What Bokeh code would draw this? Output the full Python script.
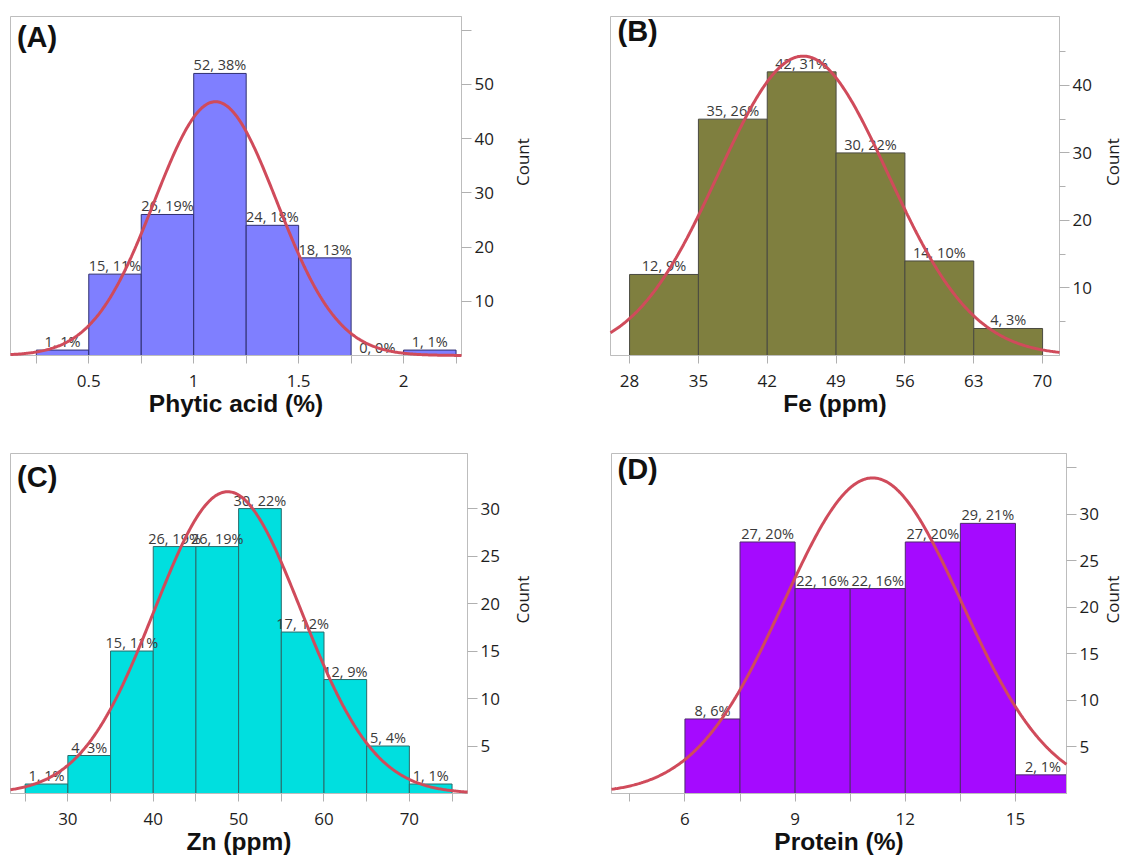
import math
import numpy as np
from bokeh.plotting import figure
from bokeh.models import Range1d, FixedTicker, ColumnDataSource, LabelSet, Label, LinearAxis
from bokeh.layouts import column, row
from bokeh.core.properties import value
from bokeh.embed import file_html
from bokeh.resources import INLINE

# ---------------- data ----------------
# (A) Phytic acid (%)
A_edges = [0.25, 0.5, 0.75, 1.0, 1.25, 1.5, 1.75, 2.0, 2.25]
A_counts = [1, 15, 26, 52, 24, 18, 0, 1]
A_pct = [1, 11, 19, 38, 18, 13, 0, 1]
A_mean, A_sd = 1.104, 0.292
A_xticks = [0.25, 0.5, 0.75, 1.0, 1.25, 1.5, 1.75, 2.0, 2.25]
A_xlabels = ["", "0.5", "", "1", "", "1.5", "", "2", ""]
A_yticks = [10, 20, 30, 40, 50, 60]
A_ylabels = ["10", "20", "30", "40", "50", ""]

# (B) Fe (ppm)
B_edges = [28, 35, 42, 49, 56, 63, 70]
B_counts = [12, 35, 42, 30, 14, 4]
B_pct = [9, 26, 31, 22, 10, 3]
B_mean, B_sd = 45.65, 8.63
B_xticks = [28, 35, 42, 49, 56, 63, 70]
B_xlabels = ["28", "35", "42", "49", "56", "63", "70"]
B_yticks = [10, 20, 30, 40]
B_ylabels = ["10", "20", "30", "40"]
B_yminor = [5, 15, 25, 35, 45]

# (C) Zn (ppm)
C_edges = [25, 30, 35, 40, 45, 50, 55, 60, 65, 70, 75]
C_counts = [1, 4, 15, 26, 26, 30, 17, 12, 5, 1]
C_pct = [1, 3, 11, 19, 19, 22, 12, 9, 4, 1]
C_mean, C_sd = 48.72, 8.6
C_xticks = [25, 30, 35, 40, 45, 50, 55, 60, 65, 70, 75]
C_xlabels = ["", "30", "", "40", "", "50", "", "60", "", "70", ""]
C_yticks = [5, 10, 15, 20, 25, 30]
C_ylabels = ["5", "10", "15", "20", "25", "30"]

# (D) Protein (%)
D_edges = [6.0, 7.5, 9.0, 10.5, 12.0, 13.5, 15.0, 16.5]
D_counts = [8, 27, 22, 22, 27, 29, 2]
D_pct = [6, 20, 16, 16, 20, 21, 1]
D_mean, D_sd = 11.11, 2.42
D_xticks = [4.5, 6.0, 7.5, 9.0, 10.5, 12.0, 13.5, 15.0]
D_xlabels = ["", "6", "", "9", "", "12", "", "15"]
D_yticks = [5, 10, 15, 20, 25, 30, 35]
D_ylabels = ["5", "10", "15", "20", "25", "30", ""]

CURVE = "#D04B5B"
GRAY = "#BDBDBD"
TXT = "#1E1E1E"
HAS_ORIENT = "axis_label_orientation" in LinearAxis.properties()


def panel(letter, title, edges, counts, pct, mean, sd, xticks, xlabels,
          yticks, ylabels, xr, yr, fill, line, lay, yminor=None):
    w, h, bl, br, bt, bb = lay["size"]
    p = figure(width=w, height=h, output_backend="svg", toolbar_location=None,
               x_range=Range1d(*xr), y_range=Range1d(*yr),
               y_axis_location="right",
               min_border_left=bl, min_border_right=br,
               min_border_top=bt, min_border_bottom=bb)
    p.xgrid.visible = False
    p.ygrid.visible = False
    p.outline_line_color = GRAY
    p.outline_line_width = 1
    p.background_fill_color = "white"
    p.border_fill_color = "white"

    left = edges[:-1]
    right = edges[1:]
    p.quad(left=left, right=right, top=counts, bottom=0,
           fill_color=fill, line_color=line, line_width=1)

    centers = [(a + b) / 2 for a, b in zip(left, right)]
    texts = [f"{c}, {q}%" for c, q in zip(counts, pct)]
    src = ColumnDataSource(dict(x=centers, y=counts, t=texts))
    p.add_layout(LabelSet(x="x", y="y", text="t", source=src,
                          text_align="center", text_baseline="alphabetic",
                          y_offset=3, text_font=value("Open Sans"),
                          text_font_size="14.5px", text_color="#3A3A3A"))

    n = sum(counts)
    bw = edges[1] - edges[0]
    xs = np.linspace(xr[0], xr[1], 400)
    ys = n * bw / (sd * np.sqrt(2 * np.pi)) * np.exp(-0.5 * ((xs - mean) / sd) ** 2)
    r = p.line(xs, ys, line_color=CURVE, line_width=3)
    r.level = "overlay"

    for ax, ticks, labels, tout in ((p.xaxis[0], xticks, xlabels, 8),
                                    (p.yaxis[0], yticks, ylabels, 10)):
        ax.ticker = FixedTicker(ticks=ticks, minor_ticks=[])
        ax.major_label_overrides = {t: l for t, l in zip(ticks, labels)}
        ax.axis_line_color = GRAY
        ax.major_tick_line_color = "#B0B0B0"
        ax.major_tick_in = 0
        ax.major_tick_out = tout
        ax.minor_tick_line_color = None
        ax.major_label_text_font = "Open Sans"
        ax.major_label_text_font_size = "17px"
        ax.major_label_text_color = TXT
    if yminor:
        p.yaxis[0].ticker = FixedTicker(ticks=yticks, minor_ticks=yminor)
        p.yaxis[0].minor_tick_line_color = "#B0B0B0"
        p.yaxis[0].minor_tick_in = 0
        p.yaxis[0].minor_tick_out = 6

    xa = p.xaxis[0]
    xa.major_label_standoff = 11
    xa.axis_label = title
    xa.axis_label_text_font = "Liberation Sans"
    xa.axis_label_text_font_style = "bold"
    xa.axis_label_text_font_size = "24.5px"
    xa.axis_label_text_color = "#111111"
    xa.axis_label_standoff = 0

    ya = p.yaxis[0]
    ya.major_label_standoff = 3
    ya.axis_label = "Count"
    ya.axis_label_text_font = "Open Sans"
    ya.axis_label_text_font_style = "normal"
    ya.axis_label_text_font_size = "17px"
    ya.axis_label_text_color = TXT
    ya.axis_label_standoff = lay["count_standoff"]
    if HAS_ORIENT:
        ya.axis_label_orientation = math.pi / 2

    fh = h - bt - bb
    p.add_layout(Label(x=lay["letter"][0], y=fh - lay["letter"][1],
                       x_units="screen", y_units="screen", text=letter,
                       text_font="Liberation Sans", text_font_style="bold",
                       text_font_size="29px", text_color="#111111",
                       text_align="left", text_baseline="middle"))
    return p


pA = panel("(A)", "Phytic acid (%)", A_edges, A_counts, A_pct, A_mean, A_sd,
           A_xticks, A_xlabels, A_yticks, A_ylabels, (0.127, 2.276), (0, 62.5),
           "#7F7FFF", "#2F2F70",
           dict(size=(566, 426, 10, 105, 16, 71), letter=(6.4, 20.3),
                count_standoff=26))
pB = panel("(B)", "Fe (ppm)", B_edges, B_counts, B_pct, B_mean, B_sd,
           B_xticks, B_xlabels, B_yticks, B_ylabels, (26.06, 71.72), (0, 50.2),
           "#7F7F3F", "#4A4A40",
           dict(size=(572, 426, 44, 77, 7, 69), letter=(7, 25.5),
                count_standoff=18), yminor=B_yminor)
pC = panel("(C)", "Zn (ppm)", C_edges, C_counts, C_pct, C_mean, C_sd,
           C_xticks, C_xlabels, C_yticks, C_ylabels, (23.28, 76.81), (0, 35.8),
           "#00DFDF", "#2A6A6A",
           dict(size=(566, 433, 10, 99, 27, 66), letter=(6.6, 23.5),
                count_standoff=20))
pD = panel("(D)", "Protein (%)", D_edges, D_counts, D_pct, D_mean, D_sd,
           D_xticks, D_xlabels, D_yticks, D_ylabels, (4.0, 16.39), (0, 36.5),
           "#A50AFF", "#4E2B6E",
           dict(size=(572, 433, 45, 69, 21, 62), letter=(6, 25),
                count_standoff=11))

layout = column(row(pA, pB), row(pC, pD))
open("out.html", "w").write(file_html(layout, INLINE))
